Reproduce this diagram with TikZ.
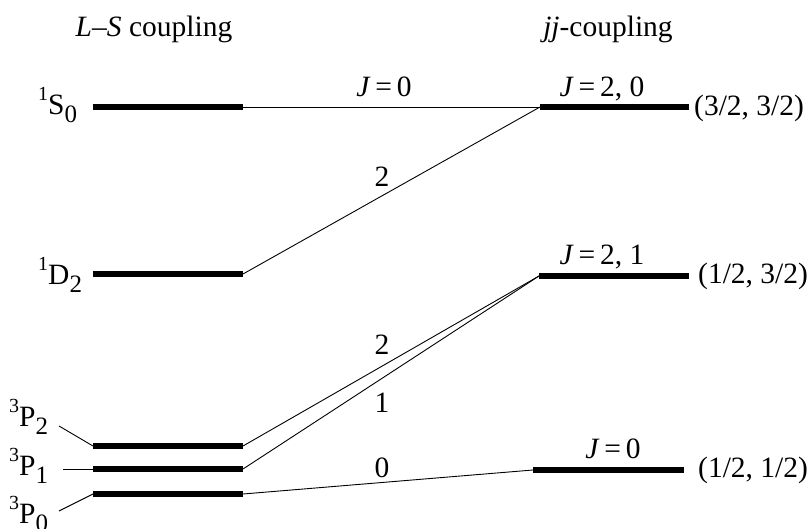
\documentclass[tikz,border=0pt]{standalone}
\usepackage{fontspec}
\setmainfont{Liberation Serif}
\newcommand{\lvl}[3]{\raisebox{14pt}{\fontsize{20}{20}\selectfont #1}#2\raisebox{-8pt}{\fontsize{25}{25}\selectfont #3}}
\begin{document}
\begin{tikzpicture}[x=1pt,y=-1pt,
  txt/.style={inner sep=0pt,font=\fontsize{29.5}{34}\selectfont},
  bar/.style={line width=5.5pt},
  conn/.style={line width=0.9pt},
  lead/.style={line width=0.9pt}]
\useasboundingbox (0,0) rectangle (811,529);
% titles
\node[txt,anchor=base] (t1) at (154,37) {\textit{L–S} coupling};
\node[txt,anchor=base] (t2) at (608,37) {\textit{jj}-coupling};
% left level end points
\coordinate (S0a) at (93,107);  \coordinate (S0b) at (243,107);
\coordinate (D2a) at (93,274);  \coordinate (D2b) at (243,274);
\coordinate (P2a) at (93,446);  \coordinate (P2b) at (243,446);
\coordinate (P1a) at (93,469);  \coordinate (P1b) at (243,469);
\coordinate (P0a) at (93,494);  \coordinate (P0b) at (243,494);
% right level end points
\coordinate (Aa) at (540,107); \coordinate (Ab) at (689,107);
\coordinate (Ba) at (539,276); \coordinate (Bb) at (689,276);
\coordinate (Ca) at (533,470); \coordinate (Cb) at (684,470);
% bars
\draw[bar] (S0a) -- (S0b);
\draw[bar] (D2a) -- (D2b);
\draw[bar] (P2a) -- (P2b);
\draw[bar] (P1a) -- (P1b);
\draw[bar] (P0a) -- (P0b);
\draw[bar] (Aa) -- (Ab);
\draw[bar] (Ba) -- (Bb);
\draw[bar] (Ca) -- (Cb);
% connectors
\draw[conn] (S0b) -- (Aa);
\draw[conn] (D2b) -- (Aa);
\draw[conn] (P2b) -- (Ba);
\draw[conn] (P1b) -- (Ba);
\draw[conn] (P0b) -- (Ca);
% left labels
\node[txt,anchor=base west] (lS0) at (38,115) {\lvl{1}{S}{0}};
\node[txt,anchor=base west] (lD2) at (38,285) {\lvl{1}{D}{2}};
\node[txt,anchor=base west] (lP2) at (9,426) {\lvl{3}{P}{2}};
\node[txt,anchor=base west] (lP1) at (9,475) {\lvl{3}{P}{1}};
\node[txt,anchor=base west] (lP0) at (9,523) {\lvl{3}{P}{0}};
% leader lines
\coordinate (q2) at (59,426);
\coordinate (q1) at (63,469);
\coordinate (q0) at (59,511);
\draw[lead] (q2) -- (P2a);
\draw[lead] (q1) -- (P1a);
\draw[lead] (q0) -- (P0a);
% right labels
\node[txt,anchor=west] (rA) at (694,108) {(3/2, 3/2)};
\node[txt,anchor=west] (rB) at (698,276) {(1/2, 3/2)};
\node[txt,anchor=west] (rC) at (698,470) {(1/2, 1/2)};
% J labels
\node[txt,anchor=base] (jA) at (602,97) {\textit{J}\,=\,2, 0};
\node[txt,anchor=base] (jB) at (602,265) {\textit{J}\,=\,2, 1};
\node[txt,anchor=base] (jC) at (613,458) {\textit{J}\,=\,0};
% connector labels
\node[txt,anchor=base] (c1) at (384,97) {\textit{J}\,=\,0};
\node[txt] (c2) at (382,177) {2};
\node[txt] (c3) at (382,345) {2};
\node[txt] (c4) at (382,403) {1};
\node[txt] (c5) at (382,468) {0};
\end{tikzpicture}
\end{document}
